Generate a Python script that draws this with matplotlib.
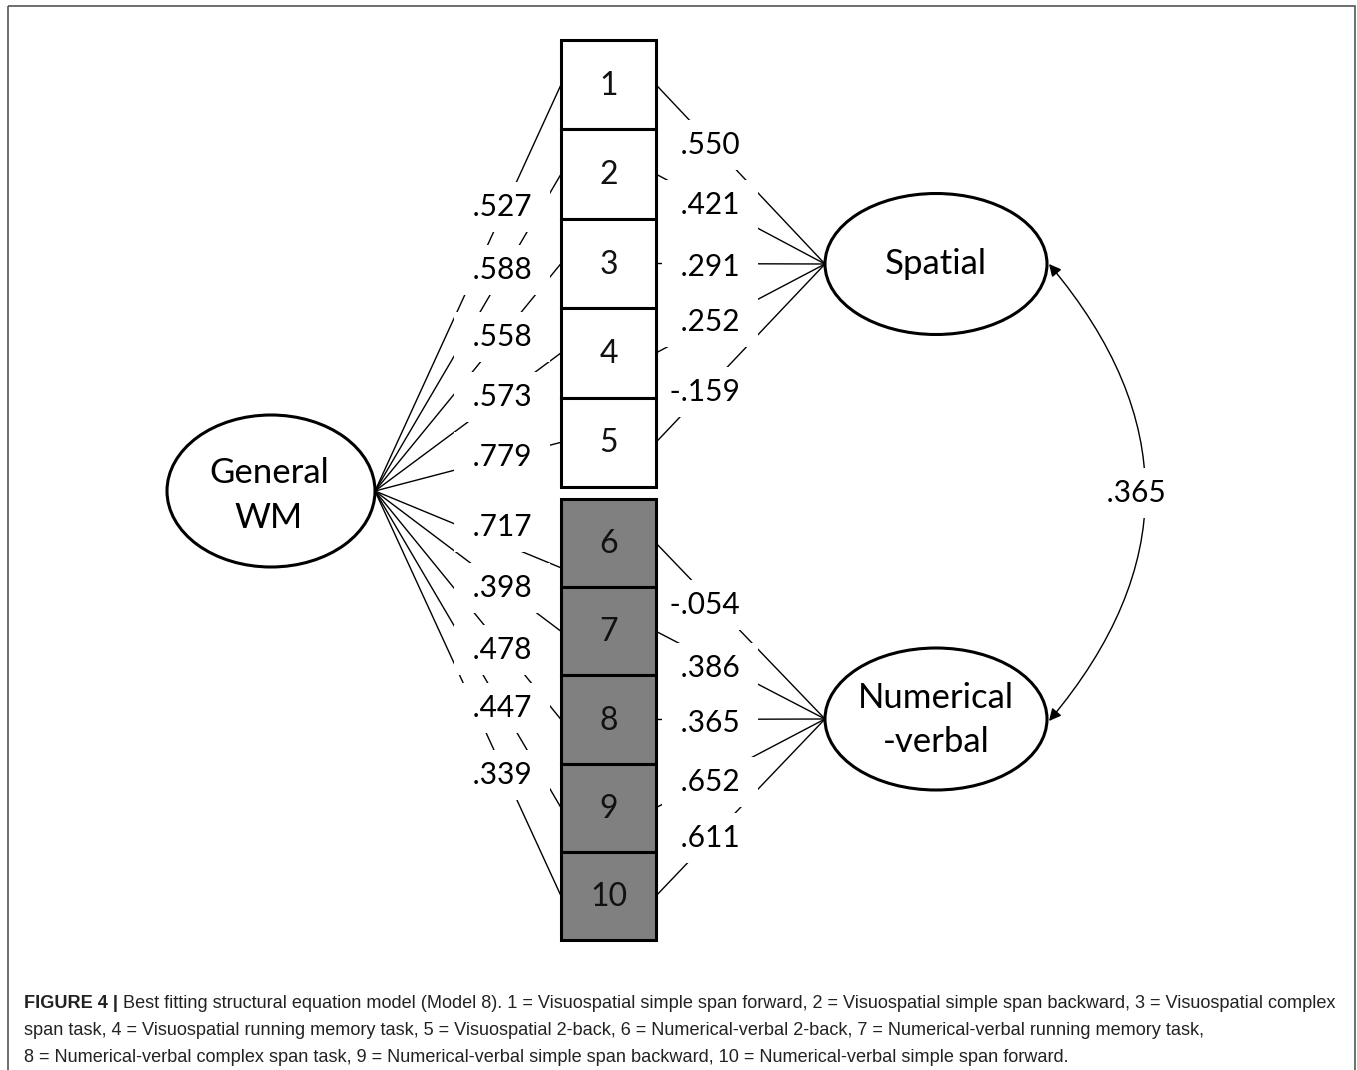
import matplotlib
matplotlib.use("Agg")
import matplotlib.pyplot as plt
from matplotlib.patches import Ellipse, Rectangle, FancyArrowPatch

# data
indicators = ["1", "2", "3", "4", "5", "6", "7", "8", "9", "10"]
general_loadings = [0.527, 0.588, 0.558, 0.573, 0.779, 0.717, 0.398, 0.478, 0.447, 0.339]
spatial_loadings = [0.550, 0.421, 0.291, 0.252, -0.159]
numverbal_loadings = [-0.054, 0.386, 0.365, 0.652, 0.611]
factor_corr = 0.365
caption_bold = "FIGURE 4 |"
caption_lines = [
    " Best fitting structural equation model (Model 8). 1 = Visuospatial simple span forward, 2 = Visuospatial simple span backward, 3 = Visuospatial complex",
    "span task, 4 = Visuospatial running memory task, 5 = Visuospatial 2-back, 6 = Numerical-verbal 2-back, 7 = Numerical-verbal running memory task,",
    "8 = Numerical-verbal complex span task, 9 = Numerical-verbal simple span backward, 10 = Numerical-verbal simple span forward.",
]

# layout (pixel coordinates)
box_x0, box_x1 = 561, 656
upper_top, upper_bot = 40, 487
lower_top, lower_bot = 499, 940
gen_c, gen_w, gen_h = (271, 491), 208, 152
spa_c, spa_w, spa_h = (936, 264), 222, 141
num_c, num_w, num_h = (936, 719), 222, 142
left_attach = [0.5, 0.5, 0.5, 0.5, 0.5, 0.78, 0.5, 0.5, 0.5, 0.5]
left_label_y = [207, 270, 337, 397, 457, 527, 588, 650, 708, 775]
right_label_y = [145, 205, 267, 322, 392, 605, 668, 723, 782, 838]
left_label_x = 539
right_label_x = 747


def fmt(v):
    s = f"{abs(v):.3f}"[1:]
    return "-" + s if v < 0 else s


plt.rcParams['font.family'] = ['Lato', 'DejaVu Sans']

fig = plt.figure(figsize=(13.57, 10.70), dpi=100)
ax = fig.add_axes([0, 0, 1, 1])
ax.set_xlim(0, 1357)
ax.set_ylim(1070, 0)
ax.axis('off')

# outer frame
ax.add_patch(Rectangle((8, 6), 1347, 1080, fill=False, edgecolor='#555555', lw=1.2, zorder=1))

# boxes
boxes = []
h_up = (upper_bot - upper_top) / 5
h_lo = (lower_bot - lower_top) / 5
for i, name in enumerate(indicators):
    if i < 5:
        y0, h, fc = upper_top + i * h_up, h_up, 'white'
    else:
        y0, h, fc = lower_top + (i - 5) * h_lo, h_lo, '#808080'
    ax.add_patch(Rectangle((box_x0, y0), box_x1 - box_x0, h, facecolor=fc,
                           edgecolor='black', lw=2.2, zorder=4))
    ax.text((box_x0 + box_x1) / 2, y0 + h / 2 + 1, name, fontsize=23, ha='center',
            va='center', zorder=5, color='#111111')
    boxes.append((y0, h))

# ellipses
for c, w, h in [(gen_c, gen_w, gen_h), (spa_c, spa_w, spa_h), (num_c, num_w, num_h)]:
    ax.add_patch(Ellipse(c, w, h, facecolor='white', edgecolor='black', lw=2.2, zorder=4))

ax.text(gen_c[0] - 2, 473, "General", fontsize=25, ha='center', va='center', zorder=5)
ax.text(gen_c[0] - 2, 518, "WM", fontsize=25, ha='center', va='center', zorder=5)
ax.text(spa_c[0], spa_c[1], "Spatial", fontsize=25, ha='center', va='center', zorder=5)
ax.text(num_c[0], 698, "Numerical", fontsize=25, ha='center', va='center', zorder=5)
ax.text(num_c[0], 742, "-verbal", fontsize=25, ha='center', va='center', zorder=5)

lbl_box = dict(boxstyle='square,pad=0.36', facecolor='white', edgecolor='none')

# general factor loadings
gx, gy = gen_c[0] + gen_w / 2, gen_c[1]
for i, v in enumerate(general_loadings):
    y0, h = boxes[i]
    ty = y0 + h * left_attach[i]
    ax.plot([gx, box_x0], [gy, ty], color='black', lw=1.0, zorder=2)
    ax.text(left_label_x, left_label_y[i], " " + fmt(v) + " ", fontsize=21.5, ha='right',
            va='center', bbox=lbl_box, zorder=3)

# specific factor loadings
for k, (vals, c, w) in enumerate([(spatial_loadings, spa_c, spa_w),
                                  (numverbal_loadings, num_c, num_w)]):
    fx, fy = c[0] - w / 2, c[1]
    for j, v in enumerate(vals):
        i = k * 5 + j
        y0, h = boxes[i]
        ax.plot([box_x1, fx], [y0 + h / 2, fy], color='black', lw=1.0, zorder=2)
        ax.text(right_label_x, right_label_y[i], " " + fmt(v) + " ", fontsize=21.5, ha='right',
                va='center', bbox=lbl_box, zorder=3)

# factor correlation
arr = FancyArrowPatch((spa_c[0] + spa_w / 2 + 2, spa_c[1]), (num_c[0] + num_w / 2 + 2, num_c[1] + 2),
                      arrowstyle='<|-|>,head_length=0.6,head_width=0.3',
                      connectionstyle='arc3,rad=-0.42', mutation_scale=12,
                      color='black', lw=1.0, shrinkA=0, shrinkB=0, zorder=2)
ax.add_patch(arr)
ax.text(1136, 493, " " + fmt(factor_corr) + " ", fontsize=21.5, ha='center', va='center',
        bbox=lbl_box, zorder=3)

# caption
cap_font = ['Liberation Sans Narrow', 'Liberation Sans', 'DejaVu Sans']
cap_size = 13.05
t0 = ax.text(24, 1008, caption_bold, fontsize=cap_size, fontweight='bold',
             family=cap_font, color='#222222', va='baseline', ha='left')
ax.annotate(caption_lines[0], xy=(1, 0), xycoords=t0, fontsize=cap_size,
            family=cap_font, color='#222222', va='bottom', ha='left')
ax.text(24, 1035, caption_lines[1], fontsize=cap_size, family=cap_font,
        color='#222222', va='baseline', ha='left')
ax.text(24, 1062, caption_lines[2], fontsize=cap_size, family=cap_font,
        color='#222222', va='baseline', ha='left')

fig.savefig("out.png", dpi=100)
